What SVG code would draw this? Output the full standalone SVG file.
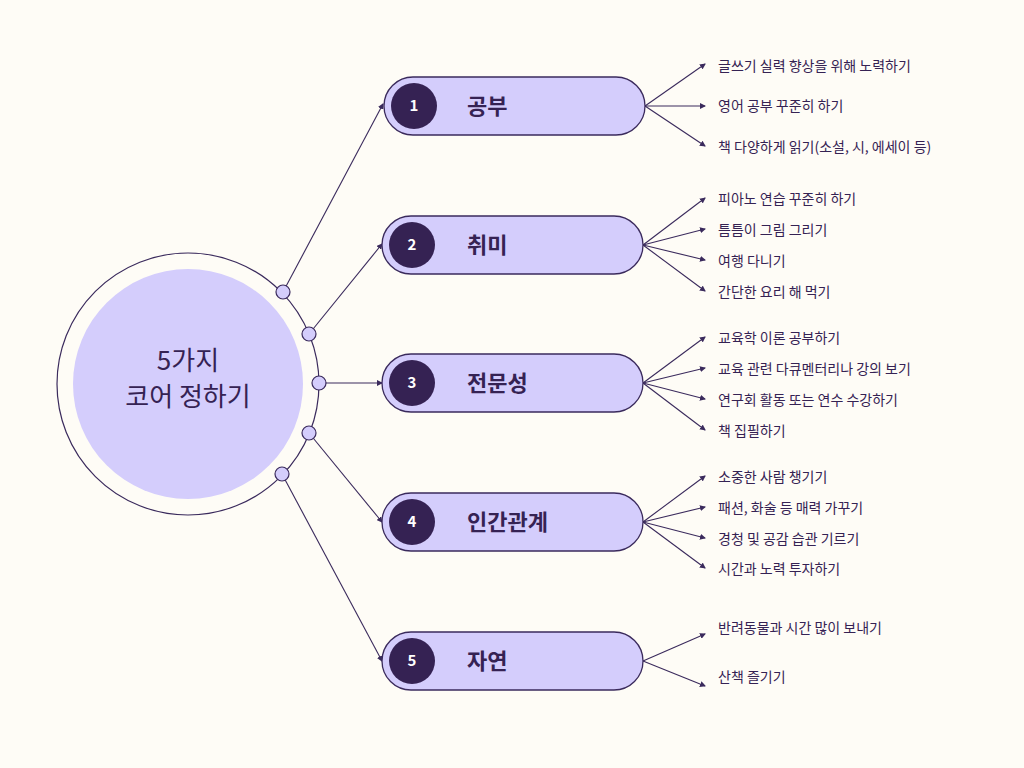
<svg xmlns="http://www.w3.org/2000/svg" width="1024" height="768" viewBox="0 0 1024 768">
<style>
text{font-family:"Noto Sans CJK KR","Noto Sans",sans-serif}
.pill{fill:#d4cdfc;stroke:#3a2a5c;stroke-width:1.3}
.num{fill:#352253}
.nt{fill:#fff;font-size:15px;font-weight:700;text-anchor:middle}
.lb{fill:#352253;font-size:22px;font-weight:700}
.it{fill:#352253;font-size:14px}
.c line{stroke:#3a2a5c;stroke-width:1.1;marker-end:url(#a)}
.dot{fill:#d4cdfc;stroke:#3a2a5c;stroke-width:1.2}
</style>
<defs><marker id="a" markerWidth="6" markerHeight="6" refX="5" refY="3" orient="auto" markerUnits="userSpaceOnUse"><path d="M0,0L6,3L0,6z" fill="#3a2a5c"/></marker></defs>
<rect width="1024" height="768" fill="#fefcf6"/>
<g id="center">
<circle cx="188" cy="384" r="131" fill="none" stroke="#3a2a5c" stroke-width="1.2"/>
<circle cx="188" cy="384" r="115" fill="#d4cdfc"/>
<text x="188" y="370" font-size="26" fill="#352253" text-anchor="middle">5가지</text>
<text x="188" y="406" font-size="26" fill="#352253" text-anchor="middle">코어 정하기</text>
</g>
<g class="c" id="connectors">
<line x1="283" y1="292" x2="383" y2="104"/>
<line x1="309" y1="334" x2="382" y2="244"/>
<line x1="319" y1="383" x2="382" y2="383"/>
<line x1="309" y1="433" x2="382" y2="522"/>
<line x1="282" y1="474" x2="382" y2="661"/>
<line x1="645" y1="106" x2="705" y2="64"/><line x1="645" y1="106" x2="705" y2="106"/><line x1="645" y1="106" x2="705" y2="146"/>
<line x1="643" y1="245" x2="705" y2="198"/><line x1="643" y1="245" x2="705" y2="229"/><line x1="643" y1="245" x2="705" y2="260"/><line x1="643" y1="245" x2="705" y2="291"/>
<line x1="643" y1="383" x2="705" y2="337"/><line x1="643" y1="383" x2="705" y2="368"/><line x1="643" y1="383" x2="705" y2="399"/><line x1="643" y1="383" x2="705" y2="430"/>
<line x1="643" y1="522" x2="705" y2="476"/><line x1="643" y1="522" x2="705" y2="507"/><line x1="643" y1="522" x2="705" y2="538"/><line x1="643" y1="522" x2="705" y2="568"/>
<line x1="643" y1="661" x2="705" y2="634"/><line x1="643" y1="661" x2="705" y2="686"/>
</g>
<g id="dots">
<circle class="dot" cx="283" cy="292" r="7"/><circle class="dot" cx="309" cy="334" r="7"/><circle class="dot" cx="319" cy="383" r="7"/><circle class="dot" cx="309" cy="433" r="7"/><circle class="dot" cx="282" cy="474" r="7"/>
</g>
<g id="n1"><rect class="pill" x="384" y="77" width="261" height="58" rx="29"/><circle class="num" cx="414" cy="106" r="23"/><text class="nt" x="414" y="111">1</text><text class="lb" x="467" y="114">공부</text></g>
<g id="n2"><rect class="pill" x="382" y="216" width="261" height="58" rx="29"/><circle class="num" cx="412" cy="245" r="23"/><text class="nt" x="412" y="250">2</text><text class="lb" x="467" y="253">취미</text></g>
<g id="n3"><rect class="pill" x="382" y="354" width="261" height="58" rx="29"/><circle class="num" cx="412" cy="383" r="23"/><text class="nt" x="412" y="388">3</text><text class="lb" x="467" y="391">전문성</text></g>
<g id="n4"><rect class="pill" x="382" y="493" width="261" height="58" rx="29"/><circle class="num" cx="412" cy="522" r="23"/><text class="nt" x="412" y="527">4</text><text class="lb" x="467" y="530">인간관계</text></g>
<g id="n5"><rect class="pill" x="382" y="632" width="261" height="58" rx="29"/><circle class="num" cx="412" cy="661" r="23"/><text class="nt" x="412" y="666">5</text><text class="lb" x="467" y="669">자연</text></g>
<g id="items">
<text class="it" x="718" y="71">글쓰기 실력 향상을 위해 노력하기</text>
<text class="it" x="718" y="111">영어 공부 꾸준히 하기</text>
<text class="it" x="718" y="152">책 다양하게 읽기(소설, 시, 에세이 등)</text>
<text class="it" x="718" y="204">피아노 연습 꾸준히 하기</text>
<text class="it" x="718" y="235">틈틈이 그림 그리기</text>
<text class="it" x="718" y="266">여행 다니기</text>
<text class="it" x="718" y="297">간단한 요리 해 먹기</text>
<text class="it" x="718" y="343">교육학 이론 공부하기</text>
<text class="it" x="718" y="374">교육 관련 다큐멘터리나 강의 보기</text>
<text class="it" x="718" y="405">연구회 활동 또는 연수 수강하기</text>
<text class="it" x="718" y="436">책 집필하기</text>
<text class="it" x="718" y="482">소중한 사람 챙기기</text>
<text class="it" x="718" y="513">패션, 화술 등 매력 가꾸기</text>
<text class="it" x="718" y="544">경청 및 공감 습관 기르기</text>
<text class="it" x="718" y="574">시간과 노력 투자하기</text>
<text class="it" x="718" y="633">반려동물과 시간 많이 보내기</text>
<text class="it" x="718" y="682">산책 즐기기</text>
</g>
</svg>
